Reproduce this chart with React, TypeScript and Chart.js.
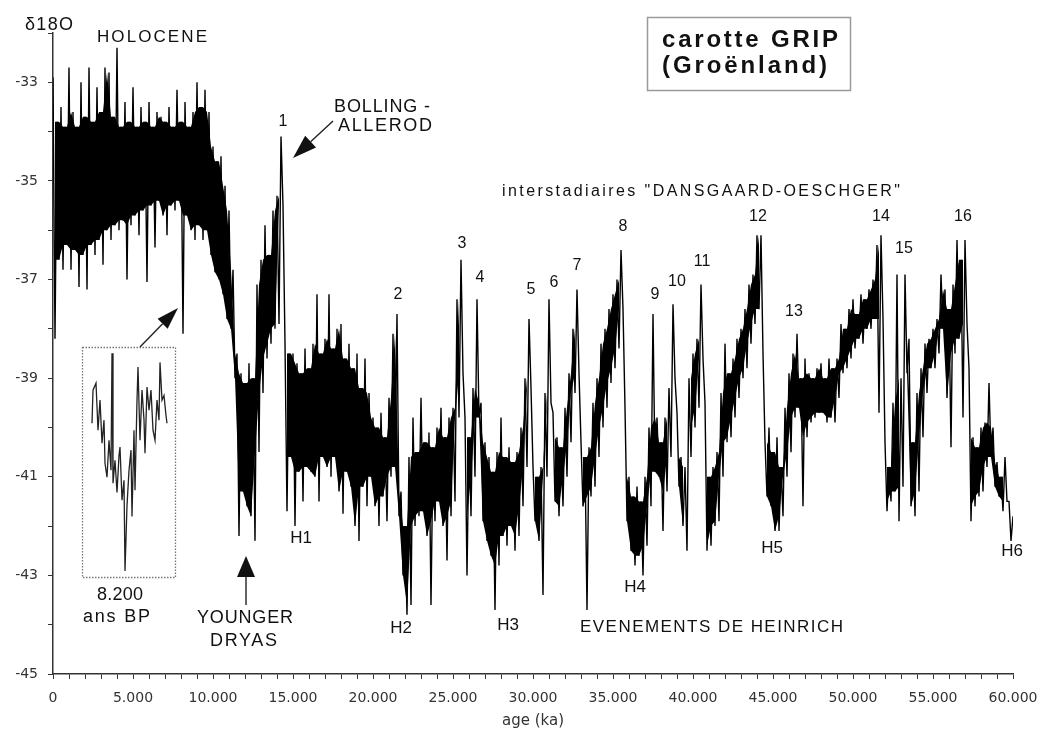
import React, { useEffect, useRef } from 'react';
import { Chart, registerables } from 'chart.js';

Chart.register(...registerables);

// ---- data (read from the GRIP δ18O record, ages in years BP) ----
const STEP = 250; // one high/low pair every 250 years
const HIGH = [
  -32.9, -33.8, -33.5, -33.9, -32.7, -33.6, -33.9, -33.0, -33.7, -32.7, -33.8, -33.1, -33.6, -32.7, -32.8, -33.7, -32.3, -33.9, -33.4, -33.8,
  -33.1, -33.9, -33.5, -33.8, -33.4, -33.9, -33.6, -33.7, -33.8, -33.5, -33.9, -33.15, -33.8, -33.4, -33.9, -33.6, -33.0, -33.5, -33.15, -33.6,
  -34.3, -34.6, -34.5, -35.1, -35.6, -36.8, -38.5, -38.9, -39.1, -38.7, -39.0, -37.1, -36.6, -35.9, -36.5, -35.6, -35.3, -34.1, -38.3, -38.5,
  -38.5, -38.7, -38.9, -38.4, -38.8, -38.3, -37.3, -38.5, -38.2, -37.3, -38.4, -38.0, -37.9, -38.6, -38.3, -38.8, -38.5, -39.2, -38.6, -39.3,
  -39.8, -40.0, -39.7, -40.2, -39.4, -38.1, -37.7, -41.3, -42.0, -40.6, -39.8, -40.5, -39.4, -40.3, -40.1, -40.4, -40.0, -39.6, -40.2, -39.8,
  -39.6, -37.4, -36.6, -39.8, -40.2, -39.2, -37.4, -39.5, -40.3, -40.6, -40.9, -40.5, -39.8, -40.6, -40.4, -40.7, -40.5, -40.0, -39.0, -37.8,
  -40.8, -41.0, -40.8, -39.3, -37.4, -39.7, -40.2, -40.4, -39.6, -38.9, -38.0, -37.2, -40.3, -40.6, -40.4, -39.5, -39.0, -38.3, -38.0, -37.6,
  -37.3, -37.0, -36.4, -39.6, -41.0, -41.4, -41.2, -41.5, -41.0, -40.0, -37.7, -39.8, -40.3, -39.8, -39.2, -37.5, -39.7, -40.6, -40.8, -39.0,
  -38.5, -38.2, -37.1, -39.5, -41.0, -40.8, -40.5, -39.3, -38.3, -38.9, -38.6, -38.2, -38.0, -37.6, -37.1, -36.9, -36.1, -36.1, -40.3, -40.0,
  -40.5, -40.2, -40.8, -39.6, -38.9, -38.5, -38.1, -39.0, -38.6, -38.9, -39.0, -38.8, -38.7, -39.0, -38.6, -38.8, -38.6, -37.9, -38.0, -37.6,
  -37.4, -37.7, -37.3, -37.4, -37.2, -37.0, -36.3, -36.1, -40.3, -40.8, -39.5, -36.9, -39.0, -36.9, -38.2, -40.3, -39.3, -38.8, -38.3, -38.2,
  -38.0, -37.8, -36.9, -37.2, -37.6, -37.1, -36.2, -36.6, -36.2, -38.8, -40.2, -40.4, -40.0, -39.9, -39.1, -40.0, -40.7, -41.0, -40.6, -41.5,
];
const LOW = [
  -38.2, -36.6, -36.8, -36.3, -36.8, -36.4, -37.15, -36.5, -37.2, -36.3, -36.5, -36.2, -36.7, -36.0, -36.2, -35.9, -36.0, -35.8, -37.0, -35.9,
  -35.7, -36.1, -35.6, -37.05, -35.5, -36.35, -35.4, -35.7, -36.1, -35.5, -35.6, -35.4, -38.1, -35.7, -36.0, -36.2, -35.9, -36.2, -36.0, -36.5,
  -36.85, -37.0, -37.3, -37.8, -38.0, -39.0, -42.2, -41.3, -41.6, -41.8, -42.3, -40.5, -39.3, -38.6, -38.3, -38.0, -37.9, -35.5, -41.7, -40.6,
  -42.0, -40.9, -41.5, -40.8, -40.9, -41.0, -41.5, -40.6, -40.8, -41.0, -40.6, -41.3, -41.75, -40.9, -41.2, -42.0, -42.3, -41.2, -41.6, -41.0,
  -41.6, -42.0, -41.4, -41.9, -41.0, -40.8, -41.8, -43.0, -43.8, -43.6, -42.0, -41.8, -41.7, -42.2, -43.6, -41.9, -41.5, -42.0, -42.7, -41.8,
  -41.5, -39.8, -38.9, -43.0, -41.8, -41.0, -39.8, -41.9, -42.3, -42.6, -43.7, -42.8, -42.2, -42.4, -42.0, -42.5, -42.2, -41.6, -40.8, -39.2,
  -41.9, -42.3, -43.4, -41.0, -39.5, -41.5, -41.8, -41.6, -41.0, -40.3, -39.3, -38.9, -41.6, -43.7, -41.4, -41.2, -40.6, -40.0, -39.6, -39.1,
  -38.8, -38.4, -37.6, -41.9, -42.5, -42.8, -42.6, -43.0, -42.4, -41.6, -40.9, -41.0, -42.1, -41.3, -40.6, -39.0, -41.2, -42.0, -42.5, -40.6,
  -40.0, -39.6, -38.6, -42.5, -42.4, -42.0, -41.9, -41.0, -40.3, -40.2, -39.8, -39.4, -39.0, -38.8, -38.3, -37.9, -37.6, -38.5, -41.4, -41.6,
  -42.1, -42.1, -41.8, -41.0, -40.5, -39.8, -39.6, -41.6, -40.2, -39.9, -39.8, -39.7, -39.7, -39.9, -39.8, -39.9, -39.4, -38.9, -38.8, -38.6,
  -38.4, -38.2, -38.3, -38.0, -38.0, -37.8, -39.7, -37.8, -41.7, -41.5, -41.3, -41.9, -41.2, -38.9, -41.6, -41.8, -41.3, -40.2, -39.3, -38.8,
  -38.8, -38.5, -38.0, -39.4, -40.4, -38.5, -38.2, -39.8, -37.9, -41.9, -41.6, -41.4, -41.3, -40.8, -40.6, -41.2, -41.4, -41.7, -41.5, -42.3,
];
const END_AGE = 60000;
const END_VALUE = -41.8;

// 8.200 ans BP event, magnified inset
const INSET_AGES = [
  7800, 7810, 7840, 7860, 7880, 7900, 7920, 7930, 7950, 7970, 7990, 8000, 8010, 8030, 8050, 8070, 8080, 8100, 8120, 8130, 8150, 8170,
  8190, 8200, 8220, 8230, 8250, 8260, 8280, 8300, 8320, 8330, 8350, 8370, 8390, 8410, 8430, 8450, 8470, 8480, 8500, 8520, 8540, 8550,
];
const INSET_VALUES = [
  -34.99, -34.56, -34.47, -35.08, -34.69, -35.25, -34.95, -35.51, -35.69, -35.21, -35.6, -34.08, -35.77, -35.47, -35.89, -35.41, -35.3,
  -35.99, -35.73, -36.91, -36.06, -35.6, -35.34, -36.2, -35.08, -35.86, -34.69, -34.26, -35.21, -34.56, -34.95, -35.38, -34.52, -34.82,
  -34.56, -35.08, -35.21, -34.69, -34.95, -34.2, -34.69, -34.63, -34.89, -34.99,
];

// axes
const X_MIN = 0;
const X_MAX = 60000;
const X_TICK_STEP = 1000;
const X_LABEL_EVERY = 5000;
const Y_MIN = -45;
const Y_MAX = -32;
const Y_TICK_STEP = 1;

// ---- layout / annotation styling ----
const W = 1054;
const H = 733;
const INSET_BOX = { left: 82, top: 347, width: 94, height: 231 };
const INSET_X_RANGE = [7700, 8640];
const INSET_Y_RANGE = [-37.0, -34.0];

const FONT = 'Liberation Sans, Arial, sans-serif';
const TICK_FONT = 'DejaVu Sans';

type FitText = { text: string; left: number; baseline: number; width: number; size: number; bold?: boolean };
const FIT_TEXTS: FitText[] = [
  { text: 'δ18O', left: 25, baseline: 30, width: 48, size: 18 },
  { text: 'HOLOCENE', left: 97, baseline: 42, width: 110, size: 17 },
  { text: 'BOLLING -', left: 334, baseline: 112, width: 96, size: 18 },
  { text: 'ALLEROD', left: 338, baseline: 131, width: 94, size: 18 },
  { text: 'interstadiaires "DANSGAARD-OESCHGER"', left: 502, baseline: 196, width: 398, size: 16 },
  { text: 'EVENEMENTS DE HEINRICH', left: 580, baseline: 632, width: 263, size: 17 },
  { text: 'YOUNGER', left: 197, baseline: 623, width: 96, size: 18 },
  { text: 'DRYAS', left: 210, baseline: 646, width: 67, size: 18 },
  { text: '8.200', left: 97, baseline: 600, width: 46, size: 18 },
  { text: 'ans BP', left: 83, baseline: 622, width: 67, size: 18 },
  { text: 'carotte GRIP', left: 662, baseline: 47, width: 176, size: 24, bold: true },
  { text: '(Groënland)', left: 662, baseline: 73, width: 165, size: 24, bold: true },
];

type CenterText = { text: string; x: number; y: number; size: number };
const CENTER_TEXTS: CenterText[] = [
  { text: '1', x: 283, y: 122, size: 16 },
  { text: '2', x: 398, y: 295, size: 16 },
  { text: '3', x: 462, y: 244, size: 16 },
  { text: '4', x: 480, y: 278, size: 16 },
  { text: '5', x: 531, y: 290, size: 16 },
  { text: '6', x: 554, y: 283, size: 16 },
  { text: '7', x: 577, y: 266, size: 16 },
  { text: '8', x: 623, y: 227, size: 16 },
  { text: '9', x: 655, y: 295, size: 16 },
  { text: '10', x: 677, y: 282, size: 16 },
  { text: '11', x: 702, y: 262, size: 16 },
  { text: '12', x: 758, y: 217, size: 16 },
  { text: '13', x: 794, y: 312, size: 16 },
  { text: '14', x: 881, y: 217, size: 16 },
  { text: '15', x: 904, y: 249, size: 16 },
  { text: '16', x: 963, y: 217, size: 16 },
  { text: 'H1', x: 301, y: 538, size: 17 },
  { text: 'H2', x: 401, y: 628, size: 17 },
  { text: 'H3', x: 508, y: 625, size: 17 },
  { text: 'H4', x: 635, y: 587, size: 17 },
  { text: 'H5', x: 772, y: 548, size: 17 },
  { text: 'H6', x: 1012, y: 551, size: 17 },
];

function fitText(ctx: CanvasRenderingContext2D, t: FitText) {
  ctx.save();
  ctx.font = `${t.bold ? 'bold ' : ''}${t.size}px ${FONT}`;
  ctx.textAlign = 'left';
  ctx.textBaseline = 'alphabetic';
  const w = ctx.measureText(t.text).width;
  const n = Array.from(t.text).length;
  const anyCtx = ctx as any;
  if (w < t.width && n > 1 && 'letterSpacing' in anyCtx) {
    anyCtx.letterSpacing = ((t.width - w) / (n - 1)).toFixed(2) + 'px';
    ctx.fillText(t.text, t.left, t.baseline);
  } else {
    ctx.translate(t.left, t.baseline);
    ctx.scale(t.width / w, 1);
    ctx.fillText(t.text, 0, 0);
  }
  ctx.restore();
}

function arrow(ctx: CanvasRenderingContext2D, x1: number, y1: number, x2: number, y2: number, len: number, half: number) {
  const a = Math.atan2(y2 - y1, x2 - x1);
  const bx = x2 - len * Math.cos(a);
  const by = y2 - len * Math.sin(a);
  ctx.beginPath();
  ctx.moveTo(x1, y1);
  ctx.lineTo(bx, by);
  ctx.stroke();
  ctx.beginPath();
  ctx.moveTo(x2, y2);
  ctx.lineTo(bx + half * Math.sin(a), by - half * Math.cos(a));
  ctx.lineTo(bx - half * Math.sin(a), by + half * Math.cos(a));
  ctx.closePath();
  ctx.fill();
}

const annotationPlugin = {
  id: 'gripAnnotations',
  afterDraw(chart: any) {
    const ctx: CanvasRenderingContext2D = chart.ctx;
    ctx.save();
    // title box
    ctx.fillStyle = '#ffffff';
    ctx.fillRect(647, 17, 203, 73);
    ctx.strokeStyle = '#9a9a9a';
    ctx.lineWidth = 1.5;
    ctx.strokeRect(647.5, 17.5, 203, 73);

    // inset frame (dotted)
    ctx.strokeStyle = '#777';
    ctx.lineWidth = 1.3;
    ctx.setLineDash([1.5, 1.5]);
    ctx.strokeRect(INSET_BOX.left + 0.5, INSET_BOX.top + 0.5, INSET_BOX.width - 1, INSET_BOX.height - 1);
    ctx.setLineDash([]);

    // arrows
    ctx.strokeStyle = '#222';
    ctx.fillStyle = '#111';
    ctx.lineWidth = 1.4;
    arrow(ctx, 333, 121, 293, 158, 24, 8);
    arrow(ctx, 246, 605, 246, 556, 21, 9);
    arrow(ctx, 140, 347, 178, 308, 22, 7);

    // texts
    ctx.fillStyle = '#111';
    FIT_TEXTS.forEach((t) => fitText(ctx, t));
    ctx.textAlign = 'center';
    ctx.textBaseline = 'middle';
    CENTER_TEXTS.forEach((t) => {
      ctx.font = `${t.size}px ${FONT}`;
      ctx.fillText(t.text, t.x, t.y);
    });
    ctx.restore();
  },
};

const fmtAge = (v: number) => (v === 0 ? '0' : `${Math.round(v / 1000)}.000`);

export default function App() {
  const mainRef = useRef<HTMLCanvasElement | null>(null);
  const insetRef = useRef<HTMLCanvasElement | null>(null);

  useEffect(() => {
    // the record itself: each high/low pair drawn as a zig-zag
    const points: { x: number; y: number }[] = [];
    HIGH.forEach((h, i) => {
      points.push({ x: i * STEP, y: h });
      points.push({ x: i * STEP + STEP / 2, y: LOW[i] });
    });
    points.push({ x: END_AGE, y: END_VALUE });

    // dense core of the record (common range of two neighbouring pairs), filled solid
    const coreTop: { x: number; y: number | null }[] = [];
    const coreBottom: { x: number; y: number | null }[] = [];
    for (let i = 0; i < HIGH.length - 1; i++) {
      const top = Math.min(HIGH[i], HIGH[i + 1]);
      const bottom = Math.max(LOW[i], LOW[i + 1]);
      const x = i * STEP + STEP / 2;
      const ok = top > bottom;
      coreTop.push({ x, y: ok ? top : null });
      coreBottom.push({ x, y: ok ? bottom : null });
    }

    const main = new Chart(mainRef.current as HTMLCanvasElement, {
      type: 'line',
      data: {
        datasets: [
          {
            data: points,
            borderColor: '#000',
            borderWidth: 1.4,
            pointRadius: 0,
            tension: 0,
            fill: false,
          },
          {
            data: coreTop,
            borderWidth: 0,
            borderColor: 'rgba(0,0,0,0)',
            pointRadius: 0,
            tension: 0,
            fill: false,
            spanGaps: false,
          },
          {
            data: coreBottom,
            borderWidth: 0,
            borderColor: 'rgba(0,0,0,0)',
            backgroundColor: '#000',
            pointRadius: 0,
            tension: 0,
            fill: '-1',
            spanGaps: false,
          },
        ],
      },
      options: {
        animation: false,
        responsive: false,
        devicePixelRatio: 1,
        events: [],
        layout: { padding: { left: 0, top: 33, right: W - 1013, bottom: 0 } },
        plugins: { legend: { display: false }, tooltip: { enabled: false }, title: { display: false } },
        scales: {
          x: {
            type: 'linear',
            min: X_MIN,
            max: X_MAX,
            afterFit: (s: any) => {
              s.height = H - 674;
            },
            border: { display: true, color: '#333', width: 1.5 },
            grid: { display: true, drawOnChartArea: false, drawTicks: true, tickLength: 5, color: '#333', lineWidth: 1 },
            ticks: {
              stepSize: X_TICK_STEP,
              maxTicksLimit: 200,
              autoSkip: false,
              maxRotation: 0,
              minRotation: 0,
              padding: 11,
              color: '#333',
              font: { family: TICK_FONT, size: 14 },
              callback: (v: any) => (Number(v) % X_LABEL_EVERY === 0 ? fmtAge(Number(v)) : ''),
            },
            title: {
              display: true,
              text: 'age (ka)',
              color: '#333',
              font: { family: TICK_FONT, size: 15 },
              padding: { top: 0, bottom: 3 },
            },
          },
          y: {
            type: 'linear',
            min: Y_MIN,
            max: Y_MAX,
            afterFit: (s: any) => {
              s.width = 53;
            },
            border: { display: true, color: '#333', width: 1.5 },
            grid: { display: true, drawOnChartArea: false, drawTicks: true, tickLength: 5, color: '#333', lineWidth: 1 },
            ticks: {
              stepSize: Y_TICK_STEP,
              maxTicksLimit: 100,
              autoSkip: false,
              padding: 10,
              color: '#333',
              font: { family: TICK_FONT, size: 14 },
              callback: (v: any) => (Math.abs(Number(v)) % 2 === 1 ? String(v) : ''),
            },
          },
        },
      } as any,
      plugins: [annotationPlugin],
    });

    const inset = new Chart(insetRef.current as HTMLCanvasElement, {
      type: 'line',
      data: {
        datasets: [
          {
            data: INSET_AGES.map((a, i) => ({ x: a, y: INSET_VALUES[i] })),
            borderColor: '#222',
            borderWidth: 1.3,
            pointRadius: 0,
            tension: 0,
            fill: false,
          },
        ],
      },
      options: {
        animation: false,
        responsive: false,
        devicePixelRatio: 1,
        events: [],
        layout: { padding: 0 },
        plugins: { legend: { display: false }, tooltip: { enabled: false } },
        scales: {
          x: { type: 'linear', display: false, min: INSET_X_RANGE[0], max: INSET_X_RANGE[1] },
          y: { type: 'linear', display: false, min: INSET_Y_RANGE[0], max: INSET_Y_RANGE[1] },
        },
      } as any,
    });

    return () => {
      main.destroy();
      inset.destroy();
    };
  }, []);

  return (
    <div style={{ position: 'absolute', left: 0, top: 0, width: W, height: H, background: '#fff' }}>
      <canvas
        ref={mainRef}
        width={W}
        height={H}
        style={{ position: 'absolute', left: 0, top: 0, width: W, height: H }}
      />
      <canvas
        ref={insetRef}
        width={INSET_BOX.width}
        height={INSET_BOX.height}
        style={{
          position: 'absolute',
          left: INSET_BOX.left,
          top: INSET_BOX.top,
          width: INSET_BOX.width,
          height: INSET_BOX.height,
        }}
      />
    </div>
  );
}
